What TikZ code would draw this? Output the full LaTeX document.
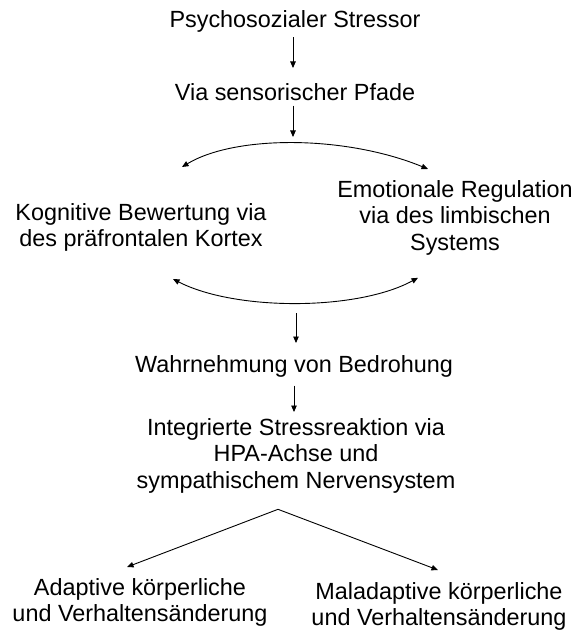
\documentclass[tikz,border=0pt]{standalone}
\usepackage{fontspec}
\setmainfont{Liberation Sans}
\usetikzlibrary{arrows.meta}

\tikzset{
  lbl/.style={inner sep=0pt, anchor=north, align=center,
              font=\fontsize{23.4}{26.8}\selectfont},
  tip/.tip={Triangle[length=6.5pt,width=5.5pt]},
  conn/.style={line width=0.9pt, -tip},
  twoway/.style={line width=0.9pt, tip-tip}
}

\begin{document}
\begin{tikzpicture}[x=1pt,y=-1pt]
  \useasboundingbox (0,0) rectangle (576,631);

  % labels, placed by the top of their first line
  \node[lbl] (stressor) at (295,10)  {Psychosozialer Stressor};
  \node[lbl] (sens)     at (295,83)  {Via sensorischer Pfade};
  \node[lbl] (kog)      at (141,203) {Kognitive Bewertung via\\des präfrontalen Kortex};
  \node[lbl] (emo)      at (455,180) {Emotionale Regulation\\via des limbischen\\Systems};
  \node[lbl] (wahr)     at (294,355) {Wahrnehmung von Bedrohung};
  \node[lbl] (integ)    at (296,418) {Integrierte Stressreaktion via\\HPA-Achse und\\sympathischem Nervensystem};
  \node[lbl] (adapt)    at (140,578) {Adaptive körperliche\\und Verhaltensänderung};
  \node[lbl] (malad)    at (439,582) {Maladaptive körperliche\\und Verhaltensänderung};

  % straight downward steps
  \draw[conn] ([shift={(-2,5)}]stressor.south) -- ([shift={(-2,-15)}]sens.north);
  \coordinate (split) at (293,137);
  \draw[conn] ([shift={(-2,5)}]sens.south) -- (split);

  % arc splitting into the two parallel pathways
  \draw[twoway] ([shift={(41,-36)}]kog.north)
      .. controls (235,135) and (345,135) .. ([shift={(-27,-11)}]emo.north);

  % arc joining them again
  \draw[twoway] ([shift={(32,27)}]kog.south)
      .. controls (235,311) and (357,311) .. ([shift={(-37,22)}]emo.south);

  \coordinate (merge) at (296,313);
  \draw[conn] (merge) -- ([shift={(2,-12)}]wahr.north);
  \draw[conn] ([shift={(0,8.5)}]wahr.south) -- ([shift={(-2,-6)}]integ.north);

  % fork into the two outcomes
  \coordinate (fork) at ([shift={(-18,15.5)}]integ.south);
  \draw[conn] (fork) -- ([shift={(-13,-11)}]adapt.north);
  \draw[conn] (fork) -- ([shift={(-1,-12)}]malad.north);
\end{tikzpicture}
\end{document}
